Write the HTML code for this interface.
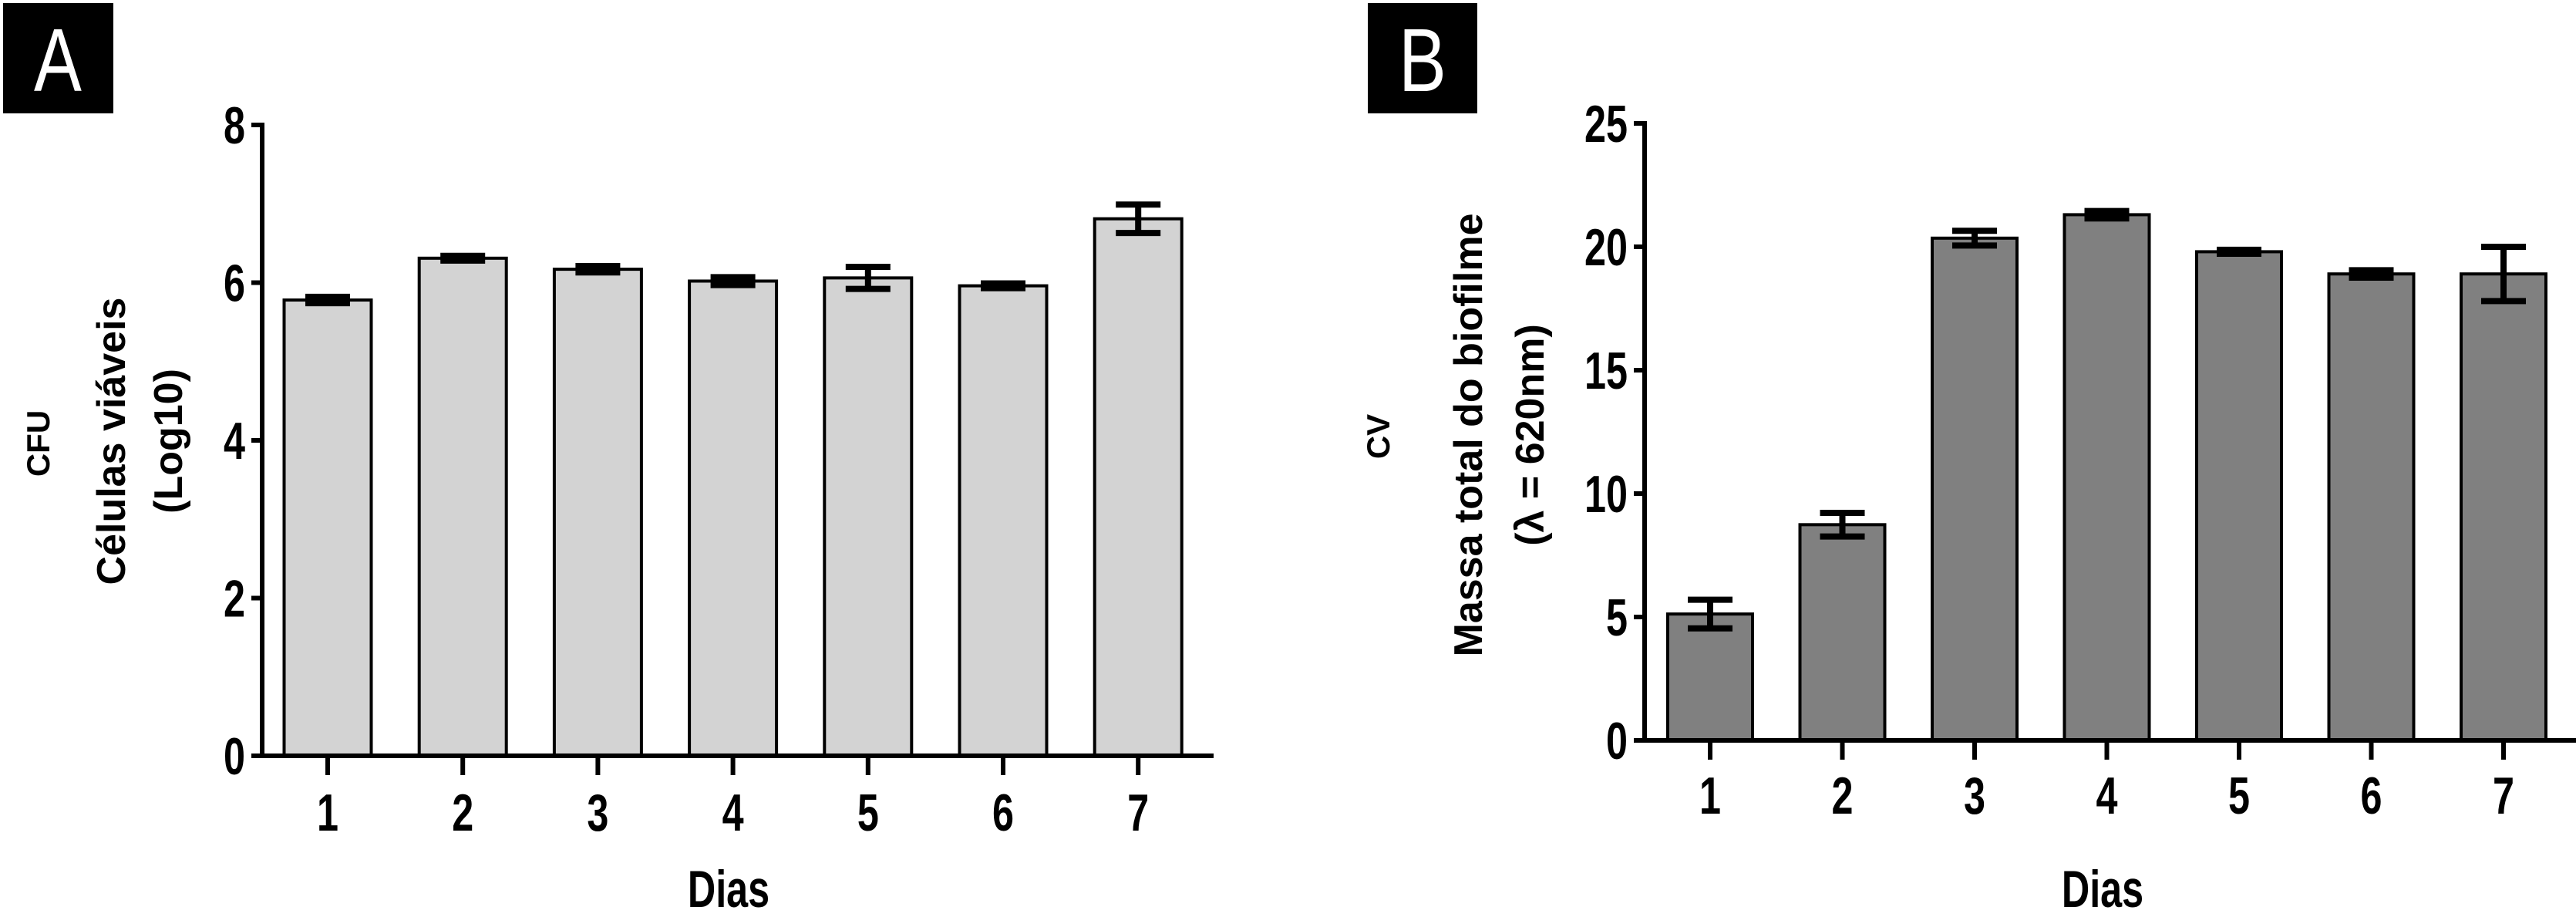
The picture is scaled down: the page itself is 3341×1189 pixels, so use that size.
<!DOCTYPE html>
<html><head><meta charset="utf-8"><style>
html,body{margin:0;padding:0;background:#fff;width:3341px;height:1189px;overflow:hidden}
svg{display:block}
.n{font-family:"Liberation Sans Narrow","Liberation Sans",sans-serif;font-weight:bold}
.b{font-family:"Liberation Sans",sans-serif;font-weight:bold}
</style></head><body>
<svg id="s" width="3341" height="1189" viewBox="0 0 3341 1189" xmlns="http://www.w3.org/2000/svg">
<rect x="4" y="4" width="143" height="143" fill="#000"/>
<text transform="translate(75,118) scale(0.8,1)" text-anchor="middle" fill="#fff" font-family="Liberation Sans, sans-serif" font-size="116">A</text>
<rect x="1774" y="4" width="142" height="143" fill="#000"/>
<text transform="translate(1845,118) scale(0.8,1)" text-anchor="middle" fill="#fff" font-family="Liberation Sans, sans-serif" font-size="116">B</text>
</svg>
<script>
const categories = ["1","2","3","4","5","6","7"];
const valuesA = [5.78, 6.31, 6.17, 6.02, 6.06, 5.96, 6.81];
const errorsA = [0.04, 0.03, 0.04, 0.05, 0.14, 0.03, 0.18];
const ticksA = [0, 2, 4, 6, 8];
const valuesB = [5.12, 8.74, 20.35, 21.3, 19.8, 18.9, 18.9];
const errorsB = [0.58, 0.48, 0.3, 0.15, 0.08, 0.15, 1.1];
const ticksB = [0, 5, 10, 15, 20, 25];

const NS = "http://www.w3.org/2000/svg";
const svg = document.getElementById('s');
function mk(tag, attrs, txt){
  const e = document.createElementNS(NS, tag);
  for (const k in attrs) e.setAttribute(k, attrs[k]);
  if (txt !== undefined) e.textContent = txt;
  svg.appendChild(e);
  return e;
}
function ntext(x, y, anchor, txt){
  return mk('text', {transform: `translate(${x},${y}) scale(0.74,1)`, 'text-anchor': anchor, 'font-size': 68, class: 'n'}, txt);
}
function panel(cfg){
  const yScale = v => cfg.y0 - (v / cfg.ymax) * (cfg.y0 - cfg.y1);
  const xScale = i => cfg.x0 + i * cfg.step;
  cfg.values.forEach((v, i) => {
    const cx = xScale(i), top = yScale(v);
    const r = mk('rect', {x: cx - cfg.bw/2, y: top, width: cfg.bw, height: cfg.y0 - top, fill: cfg.fill, stroke: '#000', 'stroke-width': 4});
    
    
    const e = cfg.errors[i];
    const hi = yScale(v + e), lo = yScale(v - e);
    const g = mk('path', {d: `M${cx} ${hi}V${lo}M${cx-29} ${hi}H${cx+29}M${cx-29} ${lo}H${cx+29}`, stroke: '#000', 'stroke-width': 8, fill: 'none'});
    
    
  });
  const ya = mk('line', {x1: cfg.ax, y1: cfg.y1 - 3, x2: cfg.ax, y2: cfg.y0 + 3, stroke: '#000', 'stroke-width': 6});
  
  
  const xa = mk('line', {x1: cfg.ax - 3, y1: cfg.y0, x2: cfg.xend, y2: cfg.y0, stroke: '#000', 'stroke-width': 6});
  
  
  cfg.ticks.forEach(t => {
    const y = yScale(t);
    const tk = mk('line', {x1: cfg.ax - 14, y1: y, x2: cfg.ax, y2: y, stroke: '#000', 'stroke-width': 6});
    
    
    const tl = ntext(cfg.ax - 22, y + 24, 'end', String(t));
    
    
  });
  categories.forEach((c, i) => {
    const x = xScale(i);
    const tk = mk('line', {x1: x, y1: cfg.y0, x2: x, y2: cfg.y0 + 25, stroke: '#000', 'stroke-width': 6});
    
    
    const tl = ntext(x, cfg.xl, 'middle', c);
    
    
  });
  const xt = ntext(cfg.dx, 1176, 'middle', 'Dias');
  
  
}
panel({p:'panel-a', values: valuesA, errors: errorsA, ticks: ticksA, ymax: 8, y0: 980, y1: 162, x0: 425, step: 175.2, bw: 113, fill: '#d3d3d3', ax: 340, xend: 1574, xl: 1077, dx: 945});
panel({p:'panel-b', values: valuesB, errors: errorsB, ticks: ticksB, ymax: 25, y0: 960, y1: 160, x0: 2218, step: 171.5, bw: 110, fill: '#808080', ax: 2133, xend: 3341, xl: 1055, dx: 2727});

function vtext(x, y, size, txt, name){
  const t = mk('text', {x: 0, y: 0, transform: `translate(${x},${y}) rotate(-90)`, 'text-anchor': 'middle', 'font-size': size, class: 'b'}, txt);
  
  
}
vtext(64, 575, 42, 'CFU', 'panel-a-method-label');
vtext(162, 572, 52, 'Células viáveis', 'panel-a-y-axis-title');
vtext(236, 572, 52, '(Log10)', 'panel-a-y-axis-title-unit');
vtext(1802, 566, 42, 'CV', 'panel-b-method-label');
vtext(1922, 564, 52, 'Massa total do biofilme', 'panel-b-y-axis-title');
vtext(2002, 564, 52, '(λ = 620nm)', 'panel-b-y-axis-title-unit');
</script>
</body></html>
